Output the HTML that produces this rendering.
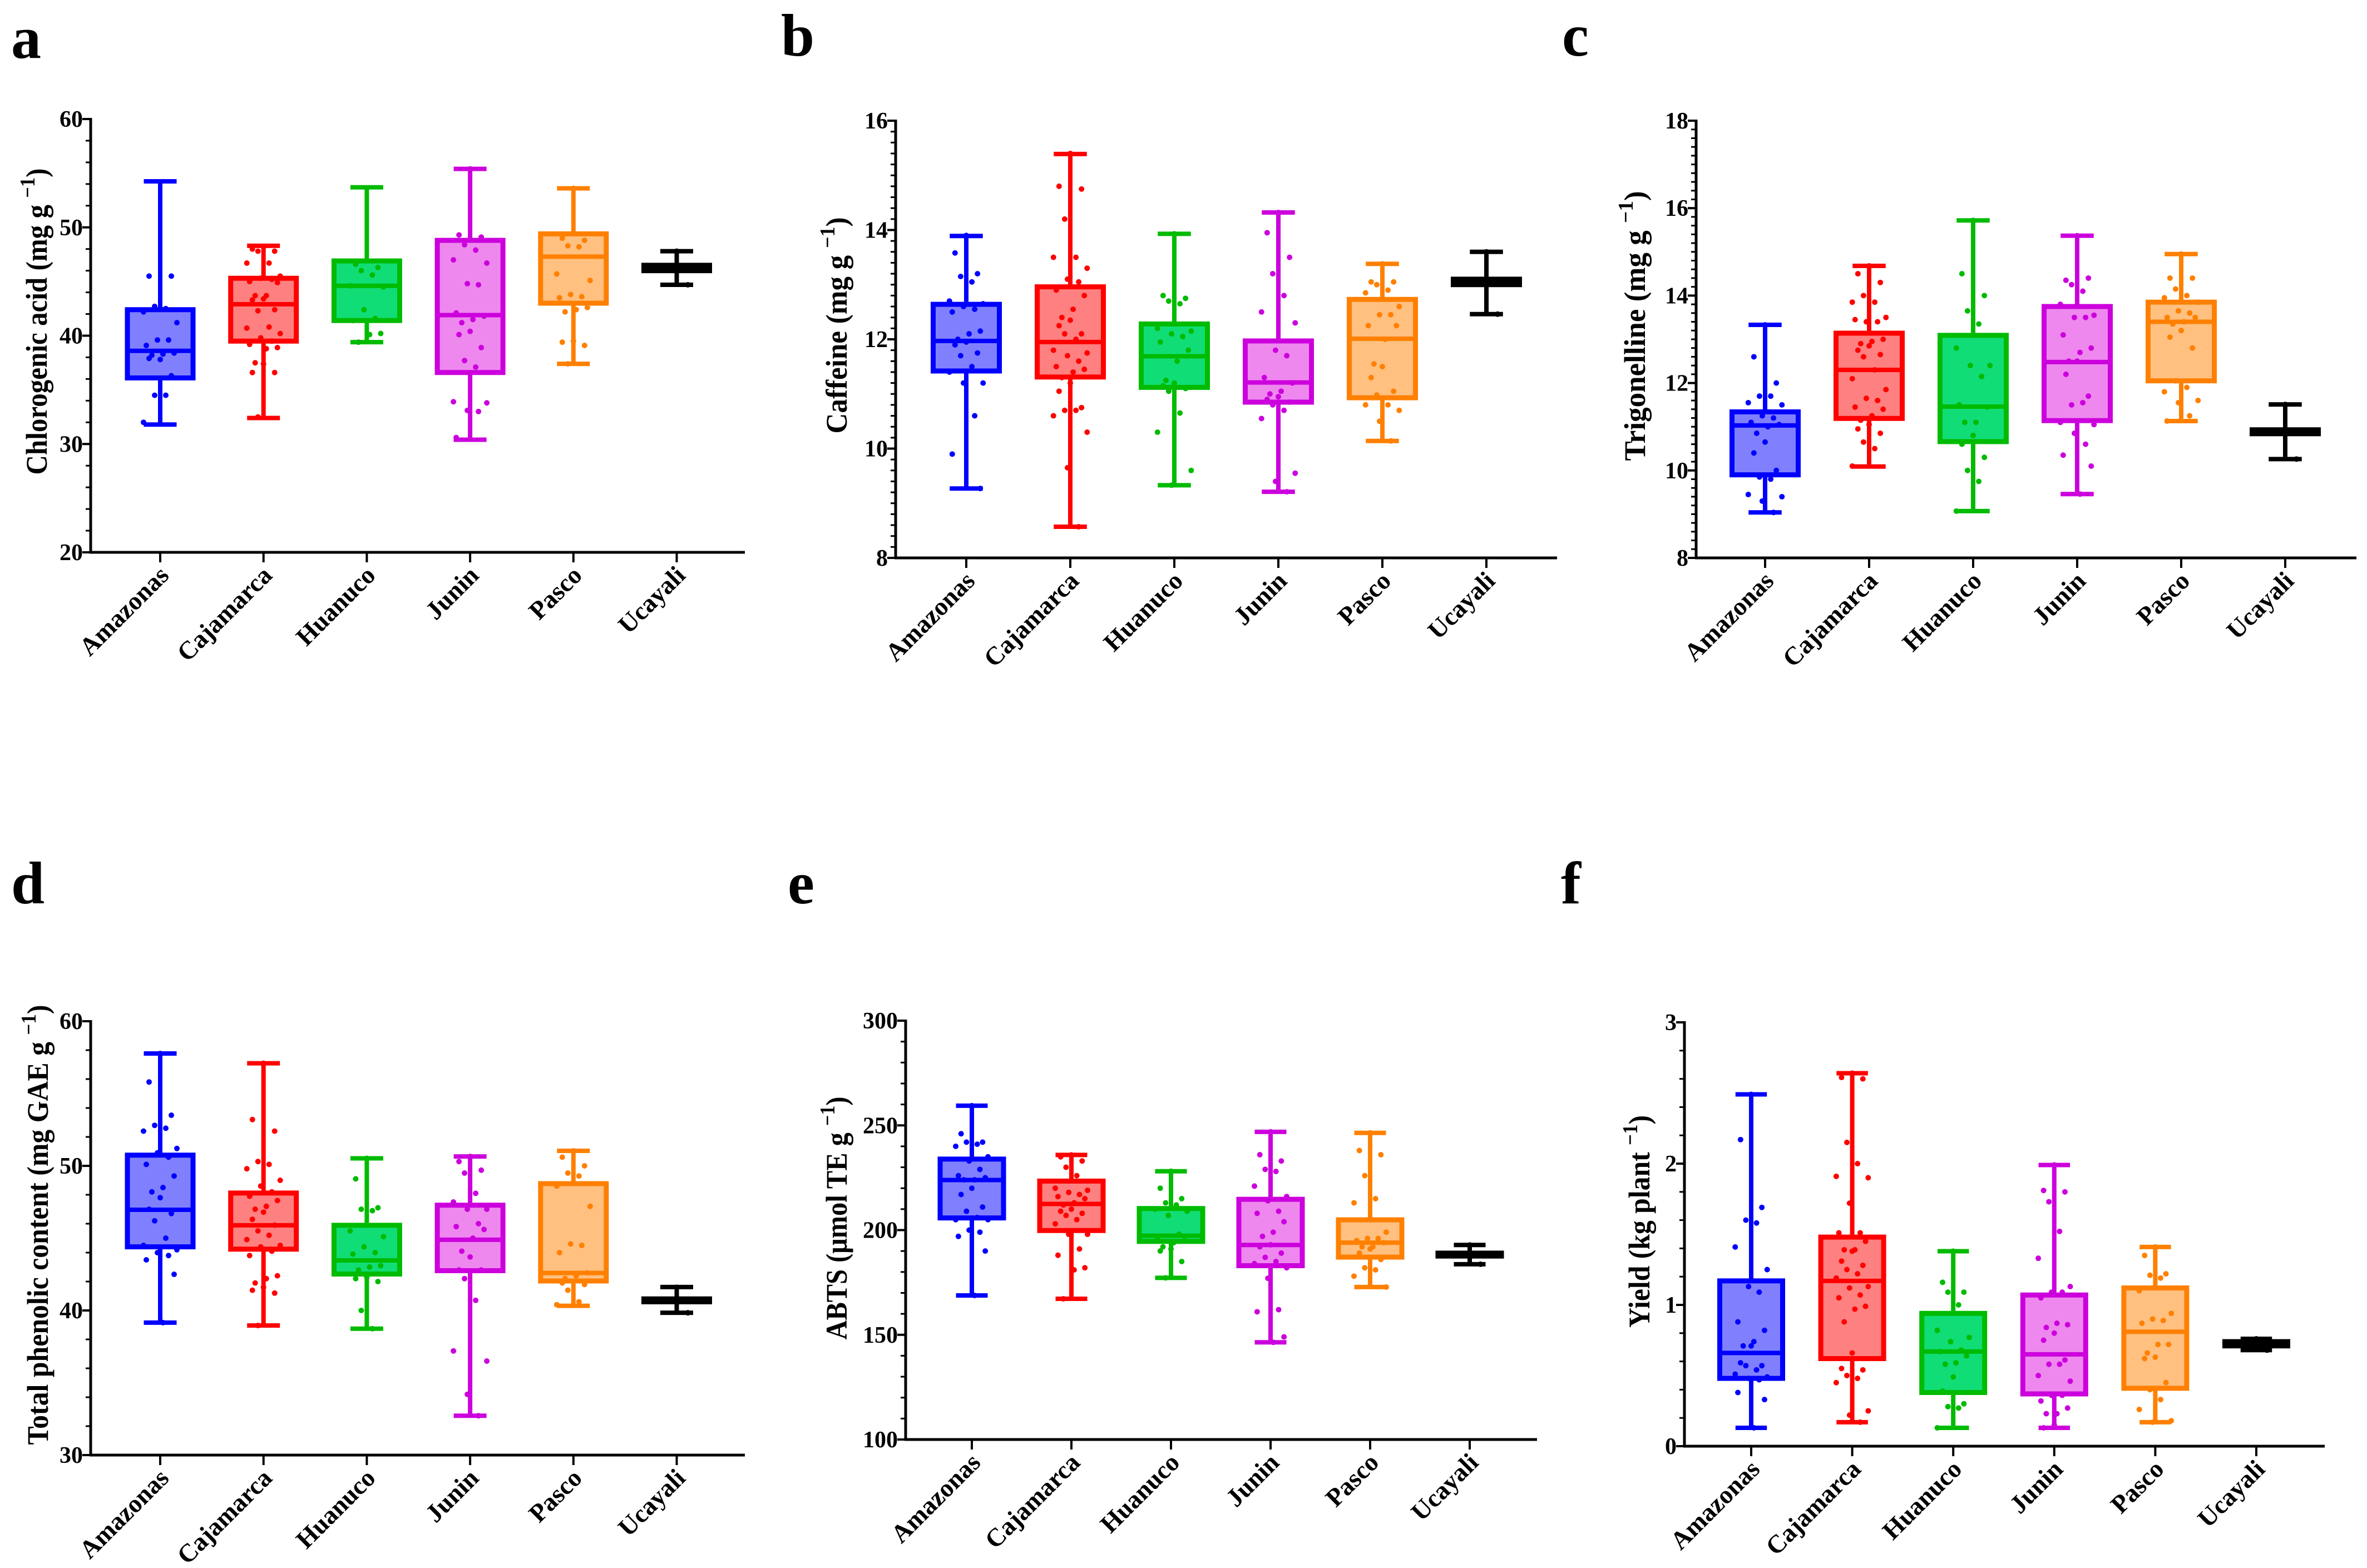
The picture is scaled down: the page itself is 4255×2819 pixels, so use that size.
<!DOCTYPE html>
<html><head><meta charset="utf-8"><style>
html,body{margin:0;padding:0;background:#fff}
svg{display:block}
text{font-family:"Liberation Serif",serif;font-weight:bold;fill:#000}
</style></head><body>
<svg id="fig" xmlns="http://www.w3.org/2000/svg" width="4255" height="2819" viewBox="0 0 4255 2819"></svg>
<script>
const categories = ["Amazonas","Cajamarca","Huanuco","Junin","Pasco","Ucayali"];
const strokeColors = ["#0000ff","#ff0000","#00bb00","#cc00dd","#ff8000","#000000"];
const fillColors = ["#8080ff","#ff8080","#11dd77","#ee88ee","#ffc080","#000000"];

// [min, q1, median, q3, max]
const statsA = [[31.8,36.1,38.6,42.4,54.25],[32.4,39.5,42.9,45.3,48.3],[39.4,41.4,44.6,46.9,53.7],[30.4,36.6,41.9,48.8,55.4],[37.4,43.0,47.3,49.4,53.6],[44.7,46.0,46.2,46.5,47.8]];
const statsB = [[9.27,11.42,11.97,12.64,13.89],[8.57,11.31,11.95,12.96,15.39],[9.33,11.12,11.69,12.28,13.93],[9.21,10.85,11.21,11.97,14.32],[10.14,10.93,12.01,12.73,13.38],[12.46,13.0,13.04,13.1,13.6]];
const statsC = [[9.04,9.9,11.03,11.34,13.33],[10.09,11.19,12.30,13.14,14.68],[9.07,10.66,11.46,13.09,15.72],[9.46,11.14,12.48,13.75,15.37],[11.13,12.05,13.40,13.85,14.95],[10.26,10.84,10.88,10.93,11.51]];
const statsD = [[39.16,44.4,46.96,50.74,57.77],[38.96,44.24,45.89,48.12,57.09],[38.74,42.52,43.46,45.89,50.52],[32.72,42.75,44.89,47.28,50.65],[40.32,42.04,42.59,48.77,51.04],[39.84,40.6,40.68,40.8,41.62]];
const statsE = [[168.8,205.8,223.9,233.9,259.4],[167.2,199.8,212.5,223.4,235.9],[177.2,194.6,197.3,210.3,228.1],[146.4,183.0,192.9,214.7,246.9],[172.8,187.1,194.0,204.9,246.4],[183.7,187.6,188.2,189.0,192.9]];
const statsF = [[0.13,0.48,0.66,1.17,2.49],[0.17,0.62,1.17,1.48,2.64],[0.13,0.38,0.67,0.94,1.38],[0.13,0.37,0.65,1.07,1.99],[0.17,0.41,0.81,1.12,1.41],[0.68,0.71,0.72,0.74,0.76]];

const pointsA = [[54.2,45.5,45.5,42.7,42.5,42.2,41.2,39.6,39.6,39.1,38.4,38.3,38.2,37.8,37.9,36.3,34.5,34.5,32.0],[48.2,48,47.8,47.8,46.7,46.7,45.5,45.3,45.2,45,44.9,43.7,43.7,43.4,43.3,42.4,42.3,40.8,40.7,40.2,39.8,39.5,39.2,38.9,38.8,37.5,37.4,36.6,36.6,32.5],[53.6,46.6,46.3,46.0,45.6,44.6,44.5,42.4,41.6,41.4,40.2,40.1,39.4],[55.4,49.3,49.1,48.4,47.9,47.0,46.7,44.8,44.7,42.1,41.8,41.5,41.2,40.4,40.1,38.9,37.7,37.1,33.9,33.8,33.1,33.0,30.6],[53.6,49.0,48.8,48.3,48.2,45.7,45.1,43.8,43.6,43.5,42.6,42.4,42.2,39.5,39.4,39.1,37.4],[47.8,46.4,44.7]];
const pointsB = [[13.9,13.58,13.2,13.15,13.05,12.7,12.65,12.6,12.55,12.5,12.15,12.1,12.0,11.95,11.9,11.75,11.7,11.5,11.4,11.2,11.2,10.6,9.9,9.27],[15.4,14.8,14.75,14.2,13.5,13.5,13.3,13.1,13.05,12.9,12.8,12.55,12.4,12.35,12.25,12.1,12.1,12.0,11.8,11.75,11.7,11.6,11.5,11.45,11.4,11.3,11.2,11.05,10.75,10.7,10.7,10.6,10.3,9.65,8.57],[13.93,12.8,12.75,12.7,12.65,12.2,12.15,12.1,12.05,11.95,11.8,11.6,11.25,11.2,11.15,11.1,11.05,10.65,10.3,9.6,9.33],[14.32,13.95,13.5,13.2,12.8,12.5,12.3,11.8,11.7,11.3,11.2,11.05,11.0,10.95,10.9,10.85,10.8,10.7,10.55,9.55,9.4,9.21],[13.38,13.05,13.05,13.0,12.9,12.85,12.6,12.45,12.45,12.25,12.25,12.0,11.55,11.5,11.3,11.05,10.98,10.8,10.8,10.7,10.5,10.14],[13.6,13.05,12.46]];
const pointsC = [[13.33,12.6,12.0,11.7,11.7,11.55,11.5,11.25,11.2,11.1,11.05,11.0,10.85,10.65,10.4,10.0,9.85,9.8,9.45,9.4,9.3,9.04],[14.68,14.5,14.3,14.0,13.85,13.85,13.5,13.4,13.4,13.45,13.0,12.95,12.9,12.85,12.75,12.65,12.6,12.3,12.1,11.85,11.65,11.6,11.45,11.4,11.25,11.15,11.05,10.95,10.85,10.65,10.5,10.1],[15.72,14.5,14.0,13.65,13.35,12.8,12.4,12.4,12.15,11.5,11.45,11.1,11.1,10.8,10.6,10.3,10.0,9.75,9.07],[15.37,14.35,14.4,14.25,14.1,13.8,13.55,13.5,13.5,13.1,12.8,12.7,12.5,12.5,12.2,11.7,11.5,11.55,11.1,11.05,10.85,10.6,10.35,10.1,9.46],[14.95,14.4,14.4,14.15,14.0,13.95,13.85,13.65,13.6,13.5,13.5,13.4,13.35,13.2,13.05,12.8,12.05,11.9,11.8,11.6,11.55,11.25,11.13],[11.51,10.9,10.26]];
const pointsD = [[57.77,55.8,53.5,52.8,52.6,52.4,51.2,50.9,50.6,50.1,49.3,48.5,48.2,47.8,47.0,46.7,46.2,45.0,44.5,44.2,44.0,43.8,43.5,42.5,39.16],[57.09,53.2,52.4,50.3,50.1,49.8,49.0,48.6,48.2,47.9,47.6,47.2,47.0,46.8,46.3,45.9,45.5,45.2,44.9,44.5,44.4,44.1,43.8,42.4,42.2,41.9,41.6,41.4,41.2,38.96],[50.52,49.1,47.1,47.0,46.9,45.5,45.1,44.4,44.0,43.9,43.1,43.0,42.8,42.3,42.2,42.0,40.0,38.74],[50.65,50.3,49.7,49.5,48.1,47.5,47.0,47.0,46.0,45.8,45.6,45.0,44.1,43.7,42.8,42.8,42.2,40.7,37.2,36.5,34.2,32.72],[51.04,50.6,50.0,49.5,49.3,48.6,47.2,44.6,44.5,44.0,42.6,42.4,42.2,42.0,41.9,41.8,41.4,40.6,40.4],[41.6,40.7,39.84]];
const pointsE = [[259.4,246,242,242,241,240,235,233,229,226,225,224,224,220,217,211,209,206,205,205,200,199,197,190,168.8],[235.9,235,233,230,226,220,219,218,217,216,215,213,212,210,209,208,207,205,203,198,198,191,188,182,181,167.2],[228.1,220,215,213,212,210,209,207,198,196,195,194,192,191,190,185,177.2],[246.9,236,233,229,228,221,216,214,209,208,204,199,197,193,192,189,187,185,184,182,177,162,161,149,146.4],[246.4,238,236,226,215,213,199,196,196,195,194,192,192,191,189,186,182,181,178,172.8],[192.9,188,183.7]];
const pointsF = [[2.49,2.17,1.69,1.60,1.58,1.41,1.25,1.13,1.09,0.88,0.82,0.74,0.71,0.71,0.59,0.57,0.57,0.54,0.51,0.49,0.48,0.47,0.38,0.33,0.13],[2.64,2.61,2.60,2.15,2.00,1.91,1.90,1.72,1.51,1.51,1.45,1.39,1.39,1.38,1.31,1.28,1.25,1.22,1.19,1.13,1.12,1.07,1.05,0.99,0.97,0.88,0.66,0.55,0.54,0.50,0.48,0.45,0.25,0.22,0.17],[1.38,1.16,1.09,1.09,1.00,0.82,0.77,0.74,0.68,0.67,0.64,0.59,0.58,0.49,0.39,0.30,0.28,0.27,0.13],[1.99,1.81,1.80,1.73,1.52,1.33,1.13,1.09,1.09,1.05,0.86,0.87,0.84,0.80,0.75,0.61,0.58,0.58,0.50,0.46,0.36,0.36,0.32,0.27,0.23,0.23,0.15,0.13],[1.41,1.35,1.22,1.21,1.19,1.10,0.94,0.90,0.89,0.87,0.72,0.72,0.66,0.63,0.62,0.45,0.40,0.33,0.26,0.18,0.17],[0.76,0.72,0.68]];

const yTicksA = [20,30,40,50,60];
const yTicksB = [8,10,12,14,16];
const yTicksC = [8,10,12,14,16,18];
const yTicksD = [30,40,50,60];
const yTicksE = [100,150,200,250,300];
const yTicksF = [0,1,2,3];

const NS = "http://www.w3.org/2000/svg";
const svg = document.getElementById('fig');
function mk(tag, attrs, parent){ const e=document.createElementNS(NS,tag); for(const k in attrs) e.setAttribute(k,attrs[k]); (parent||svg).appendChild(e); return e; }

const panels = [
 {id:'a', stats:statsA, pts:pointsA, ticks:yTicksA, minor:2, x0:163, x1:1339, yT:214, yB:993, c0:288, dc:185.7, bw:118, title:"Chlorogenic acid (mg g", tx:84, tcy:578, tl:551, lx:20, ly:104},
 {id:'b', stats:statsB, pts:pointsB, ticks:yTicksB, minor:0.2, x0:1610, x1:2799, yT:217, yB:1003, c0:1737, dc:187, bw:119, title:"Caffeine (mg g", tx:1522, tcy:585, tl:389, lx:1404, ly:100},
 {id:'c', stats:statsC, pts:pointsC, ticks:yTicksC, minor:0.2, x0:3049, x1:4236, yT:217, yB:1003, c0:3173, dc:187, bw:119, title:"Trigonelline (mg g", tx:2957, tcy:586, tl:485, lx:2808, ly:100},
 {id:'d', stats:statsD, pts:pointsD, ticks:yTicksD, minor:2, x0:163, x1:1339, yT:1836, yB:2616, c0:288, dc:185.7, bw:118, title:"Total phenolic content (mg GAE g", tx:86, tcy:2202, tl:791, lx:20, ly:1624},
 {id:'e', stats:statsE, pts:pointsE, ticks:yTicksE, minor:10, x0:1628, x1:2763, yT:1835, yB:2588, c0:1747, dc:179, bw:114, title:"ABTS (μmol TE g", tx:1522, tcy:2190, tl:437, lx:1416, ly:1624},
 {id:'f', stats:statsF, pts:pointsF, ticks:yTicksF, minor:0.2, x0:3028, x1:4179, yT:1838, yB:2600, c0:3148, dc:181.6, bw:113, title:"Yield (kg plant", tx:2965, tcy:2196, tl:382, lx:2806, ly:1624}
];
const jit = [0,-20,20,-10,10,-30,30,-5,15,-25,25,5,-15];

panels.forEach(p=>{
  const g = mk('g',{});
  
  
  const vmin=p.ticks[0], vmax=p.ticks[p.ticks.length-1];
  const y = v => p.yB - (v - vmin)/(vmax - vmin)*(p.yB - p.yT);
  const x = i => p.c0 + i*p.dc;
  const L = mk('text',{x:p.lx,y:p.ly,'font-size':108},g); L.textContent=p.id;
  
  
  const nMinor = Math.round((vmax-vmin)/p.minor);
  for(let k=0;k<=nMinor;k++){ const v=vmin+k*p.minor; const yy=y(v);
    const t = mk('line',{x1:p.x0-9,x2:p.x0,y1:yy,y2:yy,stroke:'#000','stroke-width':3},g);
    
     }
  p.ticks.forEach(v=>{ const yy=y(v);
    const t = mk('line',{x1:p.x0-15,x2:p.x0,y1:yy,y2:yy,stroke:'#000','stroke-width':4},g);
    
    
    const tl = mk('text',{x:p.x0-14,y:yy+14,'font-size':42,'text-anchor':'end'},g); tl.textContent=v;
    
     });
  const ya = mk('line',{x1:p.x0,x2:p.x0,y1:p.yT-2,y2:p.yB+2,stroke:'#000','stroke-width':5},g);
  
  
  const xa = mk('line',{x1:p.x0-2,x2:p.x1,y1:p.yB,y2:p.yB,stroke:'#000','stroke-width':5},g);
  
  
  const tt = mk('text',{transform:`translate(${p.tx},${p.tcy}) rotate(-90)`,'font-size':54,'text-anchor':'middle',textLength:p.tl,lengthAdjust:'spacingAndGlyphs'},g);
  
  
  const s1=mk('tspan',{},tt); s1.textContent=p.title+' ';
  const s2=mk('tspan',{dy:-22,'font-size':38},tt); s2.textContent='−1';
  const s3=mk('tspan',{dy:22},tt); s3.textContent=')';
  categories.forEach((c,i)=>{
    const cx=x(i);
    const tk = mk('line',{x1:cx,x2:cx,y1:p.yB,y2:p.yB+18,stroke:'#000','stroke-width':4},g);
    
    
    const lb = mk('text',{transform:`translate(${cx+18},${p.yB+44}) rotate(-45)`,'font-size':46,'text-anchor':'end'},g);
    lb.textContent=c;
    
    
    const st=p.stats[i], col=strokeColors[i];
    const bg = mk('g',{},g);
    
    
    const cw=p.bw*0.5;
    mk('line',{x1:cx,x2:cx,y1:y(st[0]),y2:y(st[4]),stroke:col,'stroke-width':8},bg);
    mk('line',{x1:cx-cw/2,x2:cx+cw/2,y1:y(st[0]),y2:y(st[0]),stroke:col,'stroke-width':8},bg);
    mk('line',{x1:cx-cw/2,x2:cx+cw/2,y1:y(st[4]),y2:y(st[4]),stroke:col,'stroke-width':8},bg);
    mk('rect',{x:cx-p.bw/2,y:y(st[3]),width:p.bw,height:Math.max(1,y(st[1])-y(st[3])),fill:fillColors[i],stroke:col,'stroke-width':9},bg);
    mk('line',{x1:cx-p.bw/2,x2:cx+p.bw/2,y1:y(st[2]),y2:y(st[2]),stroke:col,'stroke-width':8},bg);
    p.pts[i].forEach((v,k)=>{
      const d = mk('circle',{cx:cx+jit[k%jit.length]*p.bw/118,cy:y(v),r:5,fill:col},bg);
      
      
    });
  });
});
</script>
</body></html>
